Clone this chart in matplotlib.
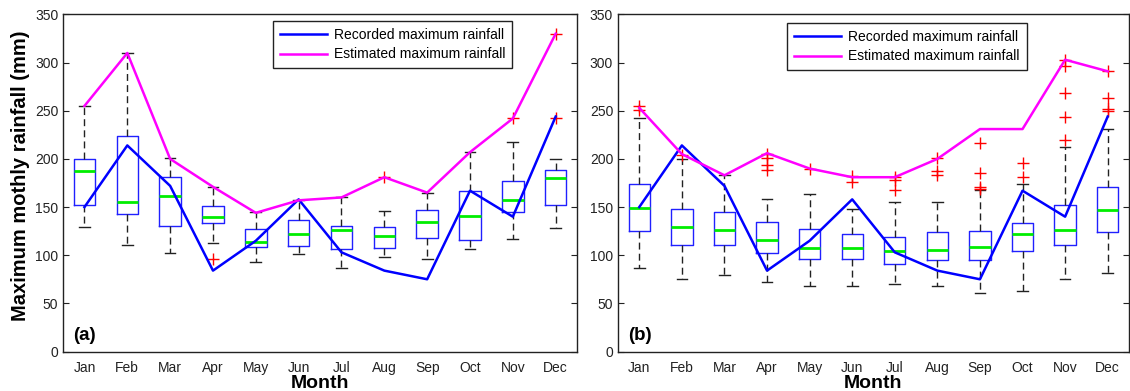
import matplotlib
matplotlib.use("Agg")
import matplotlib.pyplot as plt

plt.rcParams['font.family'] = ['Liberation Sans', 'DejaVu Sans']

months = ["Jan", "Feb", "Mar", "Apr", "May", "Jun", "Jul", "Aug", "Sep", "Oct", "Nov", "Dec"]

# recorded maximum (same in both panels)
recorded = [150, 214, 172, 84, 115, 158, 103, 84, 75, 167, 140, 244]

# ---- panel (a)
est_a = [255, 310, 200, 171, 144, 157, 160, 181, 165, 207, 242, 330]
q1_a = [152, 143, 130, 133, 109, 110, 106, 108, 118, 116, 145, 152]
med_a = [187, 155, 162, 140, 114, 122, 126, 120, 134, 141, 157, 180]
q3_a = [200, 224, 181, 151, 127, 137, 130, 129, 147, 167, 177, 188]
wlo_a = [129, 111, 102, 113, 93, 101, 87, 98, 96, 106, 117, 128]
whi_a = [255, 310, 201, 171, 145, 157, 160, 146, 165, 207, 218, 200]
fliers_a = [[], [], [], [96], [], [], [], [181], [], [], [242], [243, 330]]

# ---- panel (b)
est_b = [253, 205, 183, 206, 190, 181, 181, 200, 231, 231, 303, 291]
q1_b = [125, 111, 111, 102, 96, 96, 91, 95, 95, 104, 111, 124]
med_b = [149, 129, 126, 116, 107, 107, 104, 105, 109, 122, 126, 147]
q3_b = [174, 148, 145, 134, 127, 122, 119, 124, 125, 133, 152, 171]
wlo_b = [87, 75, 79, 72, 68, 68, 70, 68, 61, 63, 75, 82]
whi_b = [242, 200, 183, 158, 164, 148, 155, 155, 168, 174, 212, 231]
fliers_b = [[251, 255], [204], [], [189, 194, 201, 205], [190], [176, 182],
            [168, 178, 181], [183, 187, 201], [169, 171, 185, 217], [181, 196],
            [220, 244, 268, 297, 303], [250, 252, 263, 291]]


def make_stats(q1, med, q3, wlo, whi, fl):
    return [dict(q1=a, med=b, q3=c, whislo=d, whishi=e, fliers=f)
            for a, b, c, d, e, f in zip(q1, med, q3, wlo, whi, fl)]


def draw_panel(ax, stats, est, tag, leg_anchor):
    pos = range(1, len(months) + 1)
    ax.bxp(stats, positions=pos, widths=0.5, capwidths=0.25, showfliers=True,
           boxprops=dict(color='#2020ff', linewidth=1.0),
           medianprops=dict(color='#00ee00', linewidth=2.0),
           whiskerprops=dict(color='#222222', linewidth=1.0, linestyle=(0, (5, 3))),
           capprops=dict(color='#222222', linewidth=1.0),
           flierprops=dict(marker='+', markeredgecolor='red', markersize=8,
                           markeredgewidth=1.0, linestyle='none'))
    ax.plot(pos, recorded, color='#0000ff', lw=1.8, label="Recorded maximum rainfall", zorder=5)
    ax.plot(pos, est, color='#ff00ff', lw=1.8, label="Estimated maximum rainfall", zorder=5)

    ax.set_xlim(0.5, 12.5)
    ax.set_ylim(0, 350)
    ax.set_yticks(range(0, 351, 50))
    ax.set_xticks(list(pos))
    ax.set_xticklabels(months)
    ax.tick_params(axis='x', length=0, pad=7, labelsize=10, colors='#222222')
    ax.tick_params(axis='y', direction='in', right=True, length=4, labelsize=10,
                   colors='#222222')
    for s in ax.spines.values():
        s.set_linewidth(1.0)
        s.set_color('#222222')
    ax.set_xlabel("Month", fontsize=14, fontweight='bold', labelpad=0)
    ax.text(0.02, 0.022, tag, transform=ax.transAxes, fontsize=13.5, fontweight='bold',
            ha='left', va='bottom')
    leg = ax.legend(loc='upper right', bbox_to_anchor=leg_anchor, fontsize=10,
                    handlelength=3.4, handletextpad=0.5, fancybox=False, framealpha=1,
                    borderaxespad=0, borderpad=0.5, labelspacing=0.4)
    leg.get_frame().set_edgecolor('#222222')
    leg.get_frame().set_linewidth(1.0)


fig = plt.figure(figsize=(11.3, 3.91), dpi=100)
ax1 = fig.add_axes([0.0558, 0.101, 0.4549, 0.862])
ax2 = fig.add_axes([0.5469, 0.101, 0.4522, 0.862])

draw_panel(ax1, make_stats(q1_a, med_a, q3_a, wlo_a, whi_a, fliers_a), est_a, "(a)", (0.874, 0.981))
draw_panel(ax2, make_stats(q1_b, med_b, q3_b, wlo_b, whi_b, fliers_b), est_b, "(b)", (0.80, 0.975))

ax1.set_ylabel("Maximum mothly rainfall (mm)", fontsize=14.5, fontweight='bold')
ax1.yaxis.set_label_coords(-0.064, 0.52)

fig.savefig("out.png", dpi=100)
